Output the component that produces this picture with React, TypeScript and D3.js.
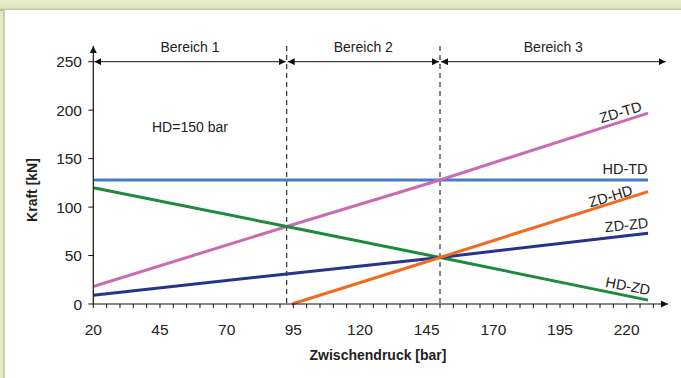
import React from 'react';
import * as d3 from 'd3';

const pressure = [20, 92.5, 150, 228];
const hdTd = [128, 128, 128, 128];
const zdTd = [18, 80, 128, 197];
const hdZd = [120, 80, 48, 4];
const zdZd = [9, 31, 48, 73];
const zdHdPressure = [94.5, 150, 228];
const zdHd = [0, 48, 116];

const xTickLabels = [20, 45, 70, 95, 120, 145, 170, 195, 220];
const yTickLabels = [0, 50, 100, 150, 200, 250];
const bereichBounds = [20, 92.5, 150, 235];
const bereichNames = ['Bereich 1', 'Bereich 2', 'Bereich 3'];

const W = 681;
const H = 378;
const font = 'Liberation Sans, Arial, sans-serif';

const x = d3.scaleLinear().domain([20, 220]).range([93.3, 626.7]);
const y = d3.scaleLinear().domain([0, 250]).range([304, 61.7]);

const line = d3
  .line<[number, number]>()
  .x(d => x(d[0]))
  .y(d => y(d[1]));

const series = [
  { name: 'HD-TD', xs: pressure, ys: hdTd, color: '#4a7cc6', lx: 625, ly: 174, rot: 0 },
  { name: 'ZD-TD', xs: pressure, ys: zdTd, color: '#c96cb2', lx: 622, ly: 117, rot: -17 },
  { name: 'HD-ZD', xs: pressure, ys: hdZd, color: '#1e8a3c', lx: 627, ly: 291, rot: 11 },
  { name: 'ZD-ZD', xs: pressure, ys: zdZd, color: '#27348b', lx: 627, ly: 230, rot: -6 },
  { name: 'ZD-HD', xs: zdHdPressure, ys: zdHd, color: '#f06b1e', lx: 612, ly: 201, rot: -17 },
];

const minorTicks = d3.range(20, 231, 5);

export default function App() {
  const x0 = x(20);
  const y0 = y(0);
  const arrowY = y(250);
  return (
    <svg width={W} height={H} style={{ position: 'absolute', left: 0, top: 0 }} fontFamily={font}>
      <defs>
        <marker id="ah" viewBox="0 0 10 10" refX="10" refY="5" markerWidth="7" markerHeight="7" orient="auto-start-reverse" markerUnits="userSpaceOnUse">
          <path d="M0,0 L10,5 L0,10 z" fill="#111" />
        </marker>
        <linearGradient id="topShade" x1="0" y1="0" x2="0" y2="1">
          <stop offset="0" stopColor="#e6edc8" />
          <stop offset="0.7" stopColor="#dfe7bd" />
          <stop offset="1" stopColor="#a9ae8e" />
        </linearGradient>
      </defs>
      <rect width={W} height={H} fill="#e3eac3" />
      <rect width={W} height={11} fill="url(#topShade)" />
      <rect x={3} y={10} width={2} height={H} fill="#c9d1a6" />
      <rect x={5} y={10} width={W} height={H} fill="#ffffff" />

      {/* dashed region separators */}
      {[92.5, 150].map(v => (
        <line key={v} x1={x(v)} x2={x(v)} y1={46} y2={y0} stroke="#333" strokeWidth={1.2} strokeDasharray="5,4" />
      ))}

      {/* region arrows */}
      {bereichNames.map((name, i) => {
        const a = x(bereichBounds[i]) + 1;
        const b = x(bereichBounds[i + 1]) - 1;
        return (
          <g key={name}>
            <line x1={a} x2={b} y1={arrowY} y2={arrowY} stroke="#111" strokeWidth={1} markerStart="url(#ah)" markerEnd="url(#ah)" />
            <text x={(a + b) / 2} y={arrowY - 10} textAnchor="middle" fontSize={14} fill="#222">{name}</text>
          </g>
        );
      })}

      {/* series lines */}
      {series.map(s => (
        <path
          key={s.name}
          d={line(s.xs.map((v, i) => [v, s.ys[i]] as [number, number])) || ''}
          fill="none"
          stroke={s.color}
          strokeWidth={3}
        />
      ))}

      {/* axes */}
      <line x1={x0} x2={x0} y1={y0} y2={46} stroke="#111" strokeWidth={1.2} markerEnd="url(#ah)" />
      <line x1={x0} x2={668} y1={y0} y2={y0} stroke="#111" strokeWidth={1.2} markerEnd="url(#ah)" />
      {minorTicks.map(t => (
        <line key={t} x1={x(t)} x2={x(t)} y1={y0} y2={y0 + 4} stroke="#111" strokeWidth={1} />
      ))}
      {yTickLabels.map(t => (
        <g key={t}>
          <line x1={x0 - 5} x2={x0} y1={y(t)} y2={y(t)} stroke="#111" strokeWidth={1} />
          <text x={82} y={y(t) + 5.5} textAnchor="end" fontSize={15.5} fill="#222">{t}</text>
        </g>
      ))}
      {xTickLabels.map(t => (
        <text key={t} x={x(t)} y={335} textAnchor="middle" fontSize={15.5} fill="#222">{t}</text>
      ))}

      <text x={378} y={360} textAnchor="middle" fontSize={14} fontWeight="bold" fill="#222">Zwischendruck [bar]</text>
      <text transform="translate(37,190) rotate(-90)" textAnchor="middle" fontSize={14} fontWeight="bold" fill="#222">Kraft [kN]</text>

      <text x={152} y={132} fontSize={14} fill="#222">HD=150 bar</text>

      {series.map(s => (
        <text
          key={s.name + 'l'}
          transform={`translate(${s.lx},${s.ly}) rotate(${s.rot})`}
          textAnchor="middle"
          fontSize={14.5}
          fill="#222"
        >
          {s.name}
        </text>
      ))}
    </svg>
  );
}
